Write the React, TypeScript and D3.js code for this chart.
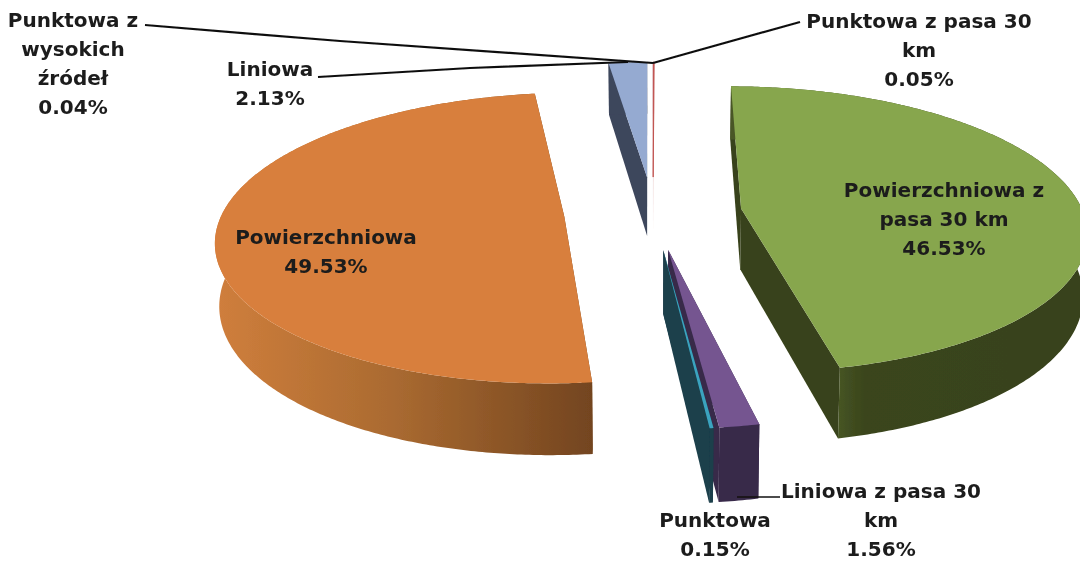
import React from "react";
import * as d3 from "d3";

// ---- data ----
const sliceNames = [
  "Powierzchniowa z pasa 30 km",
  "Liniowa z pasa 30 km",
  "Punktowa",
  "Powierzchniowa",
  "Liniowa",
  "Punktowa z wysokich źródeł",
  "Punktowa z pasa 30 km",
];
const sliceValues = [46.53, 1.56, 0.15, 49.53, 2.13, 0.04, 0.05];
const percentLabels = ["46.53%", "1.56%", "0.15%", "49.53%", "2.13%", "0.04%", "0.05%"];
const nameLines = [
  ["Powierzchniowa z", "pasa 30 km"],
  ["Liniowa z pasa 30", "km"],
  ["Punktowa"],
  ["Powierzchniowa"],
  ["Liniowa"],
  ["Punktowa z", "wysokich", "źródeł"],
  ["Punktowa z pasa 30", "km"],
];

// ---- styles ----
const topColors = ["#87a64e", "#745590", "#3ba3bf", "#d87f3c", "#95aad1", "#eef2f8", "#c0504d"];
const sideColors = ["url(#greenWall)", "#38294a", "#1b3f4b", "url(#orangeWall)", "#3d465c", "#f2f4f8", "#e8c4c3"];

// ---- layout ----
const W = 1080;
const H = 563;
const VANISH_X = 653;
const HORIZON_Y = 212.4;
const RADIUS = 342;
const DEPTH_K = 141;
const PERSPECTIVE = 0.145;
const EXPLODE = 0.26;
const WALL = 61;
const START_DEG = 0.2;
const LINE_H = 29;
const THIN_SLICE_INDEX = 6;
const labelCx = [944, 881, 715, 326, 270, 73, 919];
const labelY = [197, 498, 527, 244, 76, 27, 28];
const leaders: [number, number][][] = [
  [[737, 497], [780, 497]],
  [[318, 77], [470, 68], [628, 62]],
  [[145, 25], [340, 41], [653, 63]],
  [[800, 22], [653, 63]],
];

type P = [number, number];

function project(gx: number, gd: number, bottom: boolean): P {
  const s = 1 / (1 - PERSPECTIVE * gd);
  const x = RADIUS * s * gx;
  const y = HORIZON_Y + DEPTH_K * gd * s + (bottom ? WALL * s : 0);
  return [VANISH_X + x * (bottom ? 0.99 : 1), y];
}

const pieLayout = d3
  .pie<number>()
  .sort(null)
  .startAngle((START_DEG * Math.PI) / 180)
  .endAngle(((START_DEG + 360) * Math.PI) / 180);

const poly = d3.line<P>();

export default function App() {
  const arcs = pieLayout(sliceValues);
  const shapes = arcs.map((a, i) => {
    const mid = (a.startAngle + a.endAngle) / 2;
    const ex = EXPLODE * Math.sin(mid);
    const ed = -EXPLODE * Math.cos(mid);
    const n = Math.max(2, Math.ceil((a.endAngle - a.startAngle) / 0.01));
    const thetas = d3.range(n + 1).map((k) => a.startAngle + ((a.endAngle - a.startAngle) * k) / n);
    const rim = (b: boolean) => thetas.map((t) => project(ex + Math.sin(t), ed - Math.cos(t), b));
    const rimTop = rim(false);
    const rimBot = rim(true);
    const apexTop = project(ex, ed, false);
    const apexBot = project(ex, ed, true);
    const top = poly([apexTop, ...rimTop])! + "Z";
    const wall = poly([...rimTop, ...rimBot.slice().reverse()])! + "Z";
    const face1 = poly([apexTop, rimTop[0], rimBot[0], apexBot])! + "Z";
    const face2 = poly([apexTop, rimTop[n], rimBot[n], apexBot])! + "Z";
    return { i, ed, top, wall, face1, face2 };
  });
  const ordered = shapes.slice().sort((a, b) => a.ed - b.ed);

  return (
    <svg
      width={W}
      height={H}
      viewBox={`0 0 ${W} ${H}`}
      style={{ position: "absolute", left: 0, top: 0, display: "block", background: "#fff" }}
    >
      <defs>
        <linearGradient id="orangeWall" gradientUnits="userSpaceOnUse" x1="218" x2="596" y1="0" y2="0">
          <stop offset="0" stopColor="#cf7e3c" />
          <stop offset="0.45" stopColor="#ab6b31" />
          <stop offset="1" stopColor="#72441f" />
        </linearGradient>
        <linearGradient id="greenWall" gradientUnits="userSpaceOnUse" x1="835" x2="1080" y1="0" y2="0">
          <stop offset="0" stopColor="#485726" />
          <stop offset="0.12" stopColor="#3a451b" />
          <stop offset="1" stopColor="#38421a" />
        </linearGradient>
        <filter id="soft" x="-2%" y="-2%" width="104%" height="104%">
          <feGaussianBlur stdDeviation="0.5" />
        </filter>
      </defs>
      <g filter="url(#soft)">
        {ordered.map((s) => (
          <g key={sliceNames[s.i]}>
            <path d={s.face1} fill={s.i === 0 ? "#39431a" : s.i === 3 ? "#72441f" : sideColors[s.i]} />
            <path d={s.face2} fill={s.i === 0 ? "#39431a" : s.i === 3 ? "#72441f" : sideColors[s.i]} />
            <path d={s.wall} fill={sideColors[s.i]} />
            <path
              d={s.top}
              fill={topColors[s.i]}
              stroke={s.i === THIN_SLICE_INDEX ? topColors[s.i] : "none"}
              strokeWidth={s.i === THIN_SLICE_INDEX ? 0.9 : 0}
            />
          </g>
        ))}
        {leaders.map((pts, i) => (
          <path key={i} d={poly(pts as P[])!} fill="none" stroke="#111" strokeWidth={i === 0 ? 1.5 : 2.2} />
        ))}
        {sliceNames.map((name, i) => (
          <text
            key={name}
            textAnchor="middle"
            fontFamily="'DejaVu Sans', sans-serif"
            fontWeight={700}
            fontSize={20}
            fill="#1c1c1c"
          >
            {[...nameLines[i], percentLabels[i]].map((line, k) => (
              <tspan key={k} x={labelCx[i]} y={labelY[i] + k * LINE_H}>
                {line}
              </tspan>
            ))}
          </text>
        ))}
      </g>
    </svg>
  );
}
